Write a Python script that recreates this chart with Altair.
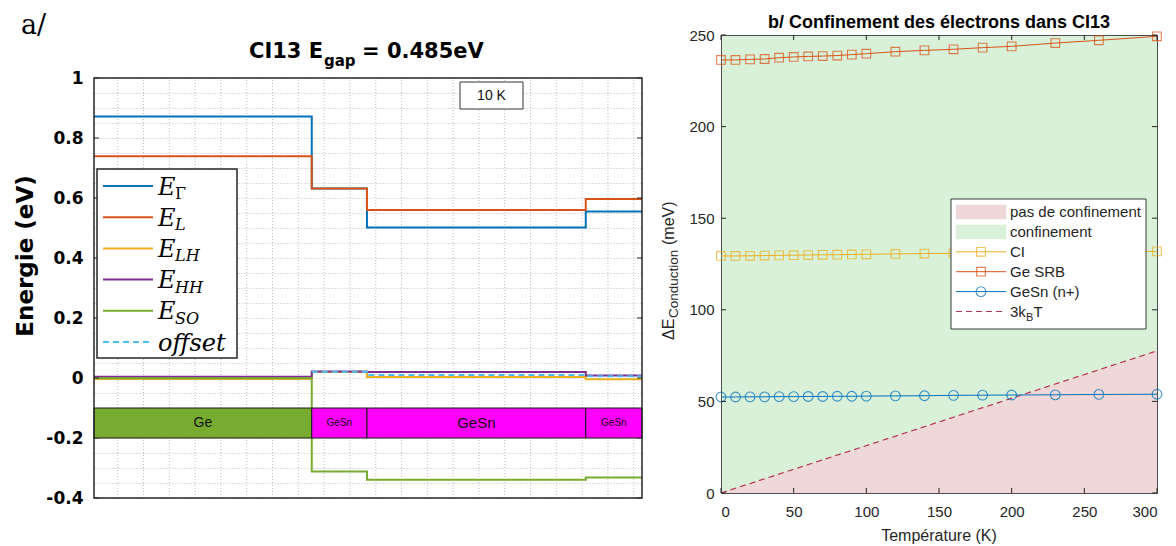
import altair as alt
import pandas as pd

# ================= Panel a/ : band diagram (CI13, 10 K) =================
layer_names = ["Ge", "GeSn", "GeSn", "GeSn"]
layer_edges = [0, 422, 529, 953, 1062]          # layer boundaries (depth, arb. units)
E_Gamma = [0.872, 0.632, 0.502, 0.555]
E_L = [0.739, 0.632, 0.560, 0.597]
E_LH = [-0.003, 0.020, 0.003, -0.004]
E_HH = [0.004, 0.022, 0.020, 0.008]
E_SO = [-0.001, -0.312, -0.339, -0.332]
E_offset = [None, 0.021, 0.010, 0.006]
band_top, band_bottom = -0.1, -0.2
y_ticks_a = [-0.4, -0.2, 0, 0.2, 0.4, 0.6, 0.8, 1]

# ================= Panel b/ : electron confinement vs temperature =================
T_K = [0, 10, 20, 30, 40, 50, 60, 70, 80, 90, 100, 120, 140, 160, 180, 200, 230, 260, 300]
ge_srb = [236.4, 236.4, 236.7, 236.9, 237.6, 238.0, 238.3, 238.5, 238.8, 239.3, 239.8,
          240.9, 241.6, 242.2, 243.1, 243.8, 245.6, 247.1, 249.3]
ci = [129.4, 129.4, 129.5, 129.6, 129.7, 129.8, 129.9, 130.0, 130.1, 130.2, 130.3,
      130.5, 130.7, 130.8, 131.0, 131.2, 131.4, 131.6, 131.9]
gesn_np = [52.4, 52.4, 52.5, 52.5, 52.6, 52.6, 52.7, 52.7, 52.8, 52.8, 52.9,
           53.0, 53.1, 53.3, 53.4, 53.5, 53.6, 53.8, 53.9]
kbt_T = [0, 300]
kbt_meV = [0, 77.6]
x_ticks_b = [0, 50, 100, 150, 200, 250, 300]
y_ticks_b = [0, 50, 100, 150, 200, 250]

# ---------------- helpers ----------------
ONE = pd.DataFrame({"k": [0]})
TXT = "#262626"


def txt(s, x, y, size, font="Liberation Sans", weight="normal", style="normal",
        align="left", baseline="alphabetic", angle=None, color=TXT):
    kw = dict(text=s, fontSize=size, font=font, fontWeight=weight, fontStyle=style,
              align=align, baseline=baseline, color=color)
    if angle is not None:
        kw["angle"] = angle
    return alt.Chart(ONE).mark_text(**kw).encode(x=alt.value(x), y=alt.value(y))


def hrule(x1, x2, y, color, width=1.0, dash=None):
    kw = dict(color=color, strokeWidth=width)
    if dash:
        kw["strokeDash"] = dash
    return alt.Chart(ONE).mark_rule(**kw).encode(x=alt.value(x1), x2=alt.value(x2), y=alt.value(y))


def box(x1, x2, y1, y2, fill="white", stroke=TXT, width=1.0, fill_opacity=1.0):
    return alt.Chart(ONE).mark_rect(fill=fill, fillOpacity=fill_opacity, stroke=stroke,
                                    strokeWidth=width).encode(
        x=alt.value(x1), x2=alt.value(x2), y=alt.value(y1), y2=alt.value(y2))


# ================= build panel a =================
# Both panels share the same plot-origin row, so panel a's drawing area starts
# at the top of panel b's frame; its own frame starts OFF px lower.
WA = 548
PXU = 300.0                      # pixels per eV
OFF = 43                         # gap between panel b top and panel a frame top
Y_LO, Y_HI = -0.4, 1.0
HA = int(round((Y_HI - Y_LO) * PXU)) + OFF
xs_a = alt.Scale(domain=[layer_edges[0], layer_edges[-1]], nice=False, zero=False)
ys_a = alt.Scale(domain=[Y_LO, Y_HI + OFF / PXU], nice=False, zero=False)
grid_x_a = [46 + 50 * i for i in range(21)]
grid_y_a = [round(Y_LO + 0.05 * i, 2) for i in range(29)]
major_a = "[" + ",".join(str(v) for v in y_ticks_a) + "]"
GRID = "#bcbcbc"

y_axis_a = alt.Axis(values=grid_y_a, grid=True, gridColor=GRID, gridDash=[1, 2],
                    ticks=False, domain=False, title=None, labelOverlap=False,
                    labelExpr="indexof(" + major_a + ", round(datum.value*100)/100) >= 0 ? '' + round(datum.value*10)/10 : ''",
                    labelFont="DejaVu Sans", labelFontWeight="bold", labelFontSize=17,
                    labelColor="#000000", labelPadding=11)


def XA(field):
    return alt.X(field, scale=xs_a, axis=None)


def YA(field):
    return alt.Y(field, scale=ys_a, axis=y_axis_a)


layers_a = []
# vertical dotted grid, limited to the frame
gx = pd.DataFrame({"x": grid_x_a, "lo": Y_LO, "hi": Y_HI})
layers_a.append(alt.Chart(gx).mark_rule(color=GRID, strokeDash=[1, 2], strokeWidth=1).encode(
    x=XA("x:Q"), y=YA("lo:Q"), y2="hi:Q"))

series_a = [("EGamma", E_Gamma, "#0072BD", None),
            ("EL", E_L, "#D95319", None),
            ("ELH", E_LH, "#EDB120", None),
            ("EHH", E_HH, "#7E2F8E", None),
            ("ESO", E_SO, "#77AC30", None),
            ("offset", E_offset, "#4DBEEE", [6, 4])]

for name, vals, col, dash in series_a:
    rows = [dict(x=layer_edges[i], e=v) for i, v in enumerate(vals) if v is not None]
    rows.append(dict(x=layer_edges[-1], e=vals[-1]))
    kw = dict(interpolate="step-after", color=col, strokeWidth=2)
    if dash:
        kw["strokeDash"] = dash
    layers_a.append(alt.Chart(pd.DataFrame(rows)).mark_line(**kw).encode(
        x=XA("x:Q"), y=YA("e:Q"), order="x:Q"))

# inner tick marks (left & right)
tick_df_a = pd.DataFrame({"v": y_ticks_a})
layers_a.append(alt.Chart(tick_df_a).mark_rule(color=TXT).encode(
    y=YA("v:Q"), x=alt.value(0), x2=alt.value(5)))
layers_a.append(alt.Chart(tick_df_a).mark_rule(color=TXT).encode(
    y=YA("v:Q"), x=alt.value(WA - 5), x2=alt.value(WA)))

# layer stack bar
band_df = pd.DataFrame({
    "name": layer_names,
    "x0": layer_edges[:-1],
    "x1": layer_edges[1:],
})
band_df["mid"] = (band_df["x0"] + band_df["x1"]) / 2
band_df["top"] = band_top
band_df["bot"] = band_bottom
band_df["cy"] = (band_top + band_bottom) / 2
band_df["fill"] = ["#77AC30" if n == "Ge" else "#FF00FF" for n in layer_names]
band_df["fs"] = [14 if n == "Ge" else (15 if (b - a) > 200 else 10)
                 for n, a, b in zip(layer_names, layer_edges[:-1], layer_edges[1:])]
layers_a.append(alt.Chart(band_df).mark_rect(stroke="#1a1a1a", strokeWidth=1).encode(
    x=XA("x0:Q"), x2="x1:Q", y=YA("top:Q"), y2="bot:Q",
    fill=alt.Fill("fill:N", scale=None)))
layers_a.append(alt.Chart(band_df).mark_text(font="Liberation Sans", color="#111111", baseline="middle").encode(
    x=XA("mid:Q"), y=YA("cy:Q"), text="name:N", size=alt.Size("fs:Q", scale=None)))

# legend (custom, LaTeX-like)
leg_a = [("E", "Γ", "normal"), ("E", "L", "italic"), ("E", "LH", "italic"),
         ("E", "HH", "italic"), ("E", "SO", "italic"), ("offset", "", "italic")]
layers_a.append(box(3, 143, OFF + 91, OFF + 280, stroke=TXT, width=1.5))
for i, ((main, sub, sst), (_, _, col, dash)) in enumerate(zip(leg_a, series_a)):
    ry = OFF + 108 + 31.2 * i
    layers_a.append(hrule(9, 59, ry, col, 2, dash))
    layers_a.append(txt(main, 64, ry + 8.5, 24, font="DejaVu Serif", style="italic", color="#000000"))
    if sub:
        layers_a.append(txt(sub, 81, ry + 13, 16, font="DejaVu Serif", style=sst, color="#000000"))

# "10 K" annotation
layers_a.append(box(366, 429, OFF + 4, OFF + 31, stroke="#333333", width=1))
layers_a.append(txt("10 K", 397.5, OFF + 18, 14, align="center", baseline="middle", color="#111111"))

# frame of panel a
layers_a.append(box(0, WA, OFF, HA, fill="white", fill_opacity=0, stroke=TXT, width=1.5))

# titles
layers_a.append(txt("a/", -73, OFF - 44, 27, font="DejaVu Serif", color="#000000"))
layers_a.append(txt("CI13 E", 155, OFF - 20, 21, font="DejaVu Sans", weight="bold", color="#000000"))
layers_a.append(txt("gap", 230, OFF - 12, 15, font="DejaVu Sans", weight="bold", color="#000000"))
layers_a.append(txt("= 0.485eV", 268, OFF - 20, 21, font="DejaVu Sans", weight="bold", color="#000000"))
layers_a.append(txt("Energie (eV)", -61, OFF + 178, 23, font="DejaVu Sans", weight="bold",
                    align="center", angle=270, color="#000000"))
# layout anchor (invisible on white)
layers_a.append(hrule(-85, 560, -26, "white", 0.5))

left = alt.layer(*layers_a).properties(
    width=WA, height=HA, view=alt.ViewBackground(stroke=None))

# ================= build panel b =================
WB, HB = 436, 458
xs_b = alt.Scale(domain=[0, 300], nice=False, zero=False)
ys_b = alt.Scale(domain=[0, 250], nice=False, zero=False)
x_axis_b = alt.Axis(values=x_ticks_b, grid=False, ticks=False, domain=False, title=None,
                    labelFont="Liberation Sans", labelFontSize=15, labelColor=TXT, labelPadding=11)
y_axis_b = alt.Axis(values=y_ticks_b, grid=False, ticks=False, domain=False, title=None,
                    labelFont="Liberation Sans", labelFontSize=15, labelColor=TXT, labelPadding=7)


def XB(field):
    return alt.X(field, scale=xs_b, axis=x_axis_b)


def YB(field):
    return alt.Y(field, scale=ys_b, axis=y_axis_b)


PINK, GREEN = "#F0D7D8", "#D9F0D9"
kbt_df = pd.DataFrame({"T": kbt_T, "v": kbt_meV})
layers_b = []
layers_b.append(alt.Chart(kbt_df).mark_area(color=PINK, opacity=1).encode(
    x=XB("T:Q"), y=YB("v:Q"), y2=alt.value(HB)))
layers_b.append(alt.Chart(kbt_df).mark_line(color="#B8344F", strokeWidth=1.2, strokeDash=[6, 4]).encode(
    x=XB("T:Q"), y=YB("v:Q")))

series_b = [("CI", ci, "#EDB120", "square", 75),
            ("Ge SRB", ge_srb, "#D95319", "square", 75),
            ("GeSn (n+)", gesn_np, "#0072BD", "circle", 95)]
for name, vals, col, shape, size in series_b:
    d = pd.DataFrame({"T": T_K, "v": vals})
    layers_b.append(alt.Chart(d).mark_line(color=col, strokeWidth=1).encode(
        x=XB("T:Q"), y=YB("v:Q")))
    layers_b.append(alt.Chart(d).mark_point(shape=shape, size=size, filled=False, color=col,
                                            strokeWidth=1.1, opacity=0.75).encode(
        x=XB("T:Q"), y=YB("v:Q")))

# inner ticks on all four sides
xt = pd.DataFrame({"t": x_ticks_b})
yt = pd.DataFrame({"t": y_ticks_b})
for y1, y2 in [(HB - 5, HB), (0, 5)]:
    layers_b.append(alt.Chart(xt).mark_rule(color=TXT).encode(
        x=XB("t:Q"), y=alt.value(y1), y2=alt.value(y2)))
for x1, x2 in [(0, 5), (WB - 5, WB)]:
    layers_b.append(alt.Chart(yt).mark_rule(color=TXT).encode(
        y=YB("t:Q"), x=alt.value(x1), x2=alt.value(x2)))

# legend
layers_b.append(box(230, 425, 164, 294, stroke="#3a3a3a", width=1))
LY0, LDY = 177, 19.9
layers_b.append(box(235, 285, LY0 - 7, LY0 + 7, fill=PINK, stroke=PINK, width=0.5))
layers_b.append(txt("pas de confinement", 289, LY0, 15, baseline="middle"))
layers_b.append(box(235, 285, LY0 + LDY - 7, LY0 + LDY + 7, fill=GREEN, stroke=GREEN, width=0.5))
layers_b.append(txt("confinement", 289, LY0 + LDY, 15, baseline="middle"))
for j, (name, vals, col, shape, size) in enumerate(series_b):
    ry = LY0 + LDY * (2 + j)
    layers_b.append(hrule(235, 285, ry, col, 1))
    layers_b.append(alt.Chart(ONE).mark_point(shape=shape, size=size, filled=False, color=col,
                                              strokeWidth=1.1, opacity=0.75).encode(
        x=alt.value(260), y=alt.value(ry)))
    layers_b.append(txt(name, 289, ry, 15, baseline="middle"))
ry = LY0 + LDY * 5
layers_b.append(hrule(235, 285, ry, "#B8344F", 1.2, [6, 4]))
layers_b.append(txt("3k", 289, ry + 5, 15))
layers_b.append(txt("B", 305, ry + 9, 11))
layers_b.append(txt("T", 312.5, ry + 5, 15))

# titles
layers_b.append(txt("b/ Confinement des électrons dans CI13", WB / 2, -7, 18, weight="bold",
                    align="center", color="#000000"))
layers_b.append(txt("Température (K)", WB / 2, 506, 16, align="center"))
layers_b.append(txt("ΔE", -47, 305, 16, angle=270))
layers_b.append(txt("Conduction", -43, 283, 13.5, angle=270))
layers_b.append(txt("(meV)", -47, 210, 16, angle=270))
layers_b.append(hrule(-65, 0, -26, "white", 0.5))

right = alt.layer(*layers_b).properties(
    width=WB, height=HB, view=alt.ViewBackground(fill=GREEN, stroke="#4d4d4d", strokeWidth=1))

chart = alt.hconcat(left, right, spacing=0).properties(padding=0, background="white")
chart.save("out.html", embed_options={"renderer": "svg", "actions": False})
